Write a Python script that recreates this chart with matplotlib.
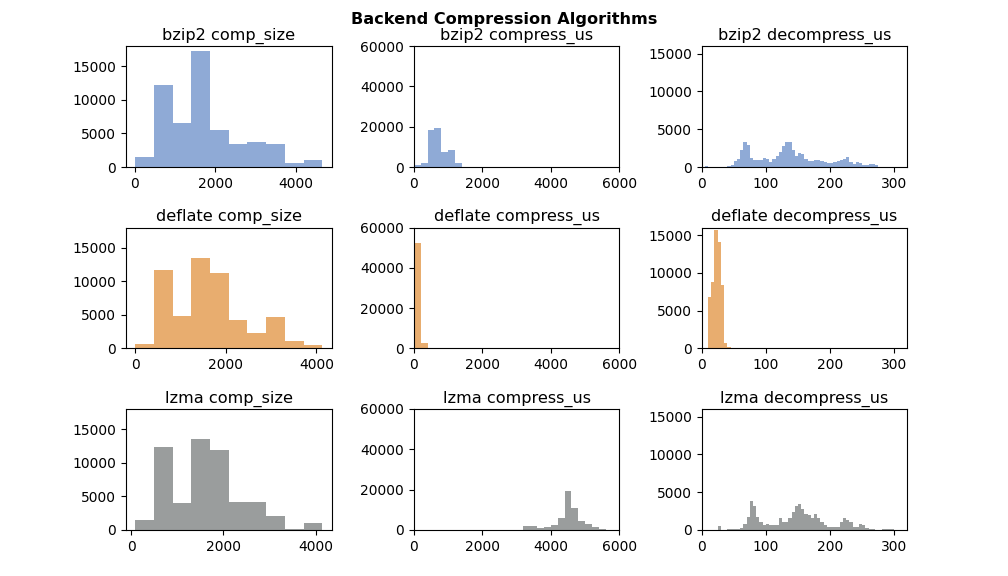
import numpy as np
import matplotlib
matplotlib.use("Agg")
import matplotlib.pyplot as plt

algos = ["bzip2", "deflate", "lzma"]
colors = ["#8FAAD6", "#E8AD6F", "#9A9D9D"]

# comp_size: 10 bins between min and max of each series
size_range = {"bzip2": (17, 4650), "deflate": (0, 4130), "lzma": (87, 4146)}
size_counts = {
    "bzip2": [1500, 12200, 6550, 17300, 5500, 3450, 3750, 3450, 650, 1100],
    "deflate": [700, 11750, 4880, 13500, 11160, 4285, 2340, 4730, 1150, 550],
    "lzma": [1490, 12370, 4020, 13560, 11920, 4170, 4170, 2090, 150, 1040],
}

# compress_us: bins of 200 us from 0 to 6000
compress_edges = np.arange(0, 6001, 200)
compress_counts = {
    "bzip2": [830, 1820, 18180, 19170, 7270, 8600, 1820],
    "deflate": [52160, 2820],
    "lzma": [0] * 16 + [2150, 2150, 1160, 1650, 2640, 6110, 19500, 11070,
                        4630, 3140, 1320, 660],
}

# decompress_us: bins of 5 us from 0 to 300
decompress_edges = np.arange(0, 301, 5)
decompress_counts = {
    "bzip2": [0, 180, 0, 0, 0, 0, 0, 0, 90, 270,
              800, 1060, 2260, 3320, 2920, 1190, 970, 970, 880, 1190,
              1060, 710, 1060, 1460, 1990, 2790, 3320, 3320, 2260, 1460,
              1860, 1770, 1060, 800, 800, 930, 930, 800, 660, 530,
              530, 660, 800, 930, 1060, 1320, 660, 400, 660, 530,
              260, 260, 400, 400, 260],
    "deflate": [0, 0, 6810, 8810, 15620, 14060, 8410, 670, 180],
    "lzma": [0, 0, 0, 0, 0, 485, 0, 0, 130, 130,
             130, 130, 310, 840, 1680, 3840, 3130, 1680, 1010, 620,
             750, 620, 620, 620, 1540, 1010, 1010, 1540, 2380, 3130,
             3400, 2820, 2160, 1940, 1630, 2070, 1540, 1010, 620, 440,
             350, 350, 350, 1010, 1540, 1280, 1010, 350, 350, 790,
             660, 220, 130, 130, 0, 0, 130, 130, 130, 130],
}


def draw_hist(ax, edges, counts, color):
    edges = np.asarray(edges, dtype=float)
    counts = list(counts) + [0] * (len(edges) - 1 - len(counts))
    ax.hist(edges[:-1], bins=edges, weights=counts, color=color)


fig, axes = plt.subplots(3, 3, figsize=(10.08, 5.76), dpi=100)
fig.subplots_adjust(left=0.125, right=0.9, top=0.92, bottom=0.08,
                    hspace=0.5, wspace=0.4)

tsize = 11.6
for i, algo in enumerate(algos):
    c = colors[i]

    ax = axes[i, 0]
    lo, hi = size_range[algo]
    draw_hist(ax, np.linspace(lo, hi, 11), size_counts[algo], c)
    ax.set_ylim(0, 18000)
    ax.set_title(f"{algo} comp_size", fontsize=tsize, pad=4.5)

    ax = axes[i, 1]
    draw_hist(ax, compress_edges, compress_counts[algo], c)
    ax.set_xlim(0, 6000)
    ax.set_ylim(0, 60000)
    ax.set_title(f"{algo} compress_us", fontsize=tsize, pad=4.5)

    ax = axes[i, 2]
    draw_hist(ax, decompress_edges, decompress_counts[algo], c)
    ax.set_xlim(0, 320)
    ax.set_ylim(0, 16000)
    ax.set_title(f"{algo} decompress_us", fontsize=tsize, pad=4.5)

fig.suptitle("Backend Compression Algorithms", fontweight="bold",
             fontsize=11.6, y=0.979)
fig.savefig("out.png", dpi=100)
